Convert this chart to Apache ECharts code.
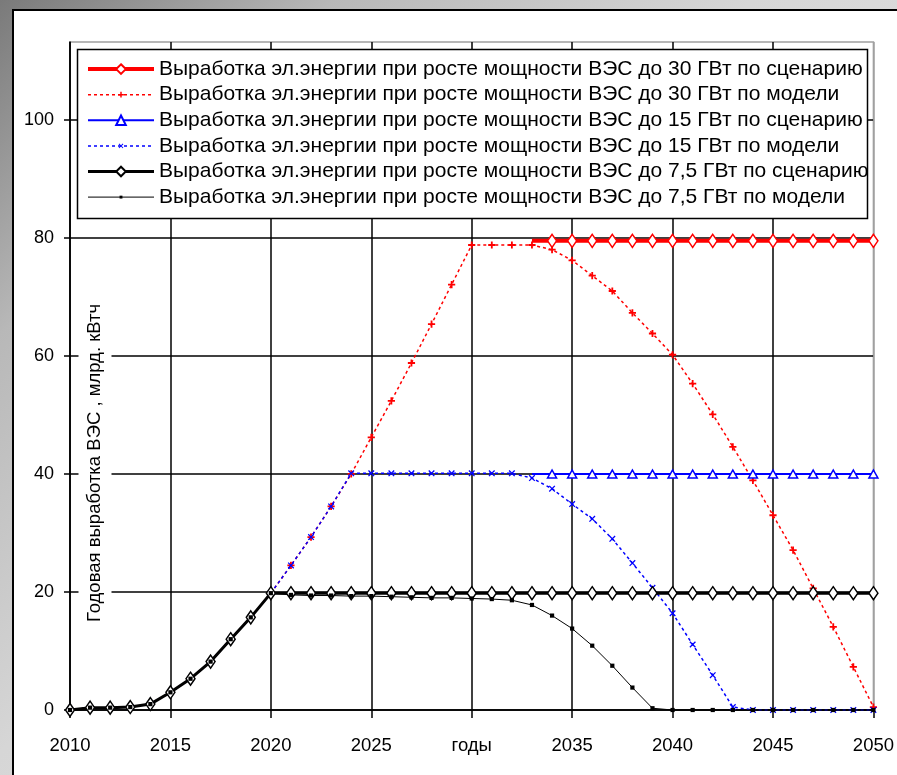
<!DOCTYPE html>
<html>
<head>
<meta charset="utf-8">
<script src="https://cdn.jsdelivr.net/npm/echarts@6/dist/echarts.min.js"></script>
<style>
html,body{margin:0;padding:0;width:897px;height:775px;overflow:hidden;}
body{background:linear-gradient(135deg,#7a7a7a 0%,#b8b8b8 20%,#d6d6d6 45%,#ececec 100%);}
#panel{position:absolute;left:12px;top:9px;width:900px;height:800px;background:#fff;border-left:2px solid #000;border-top:2px solid #000;}
#chart{position:absolute;left:0;top:0;width:897px;height:775px;}
</style>
</head>
<body>
<div id="panel"></div>
<div id="chart"></div>
<script>
// ---------- data ----------
const years = [2010,2011,2012,2013,2014,2015,2016,2017,2018,2019,2020,
               2021,2022,2023,2024,2025,2026,2027,2028,2029,2030,
               2031,2032,2033,2034,2035,2036,2037,2038,2039,2040,
               2041,2042,2043,2044,2045,2046,2047,2048,2049,2050];

const red30Scenario = [null,null,null,null,null,null,null,null,null,null,null,
                       null,null,null,null,null,null,null,null,null,null,
                       null,null,79.5,79.5,79.5,79.5,79.5,79.5,79.5,79.5,
                       79.5,79.5,79.5,79.5,79.5,79.5,79.5,79.5,79.5,79.5];

const red30Model = [0,0.4,0.4,0.5,1.0,3.0,5.3,8.2,12.0,15.7,19.8,
                    24.5,29.3,34.5,40.0,46.2,52.4,58.8,65.4,72.1,78.8,
                    78.8,78.8,78.8,78.0,76.2,73.6,71.0,67.3,63.8,60.2,
                    55.3,50.1,44.6,38.9,33.0,27.1,20.6,14.1,7.3,0.5];

const blue15Scenario = [null,null,null,null,null,null,null,null,null,null,null,
                        null,null,null,null,null,null,null,null,null,null,
                        null,null,40.0,40.0,40.0,40.0,40.0,40.0,40.0,40.0,
                        40.0,40.0,40.0,40.0,40.0,40.0,40.0,40.0,40.0,40.0];

const blue15Model = [0,0.4,0.4,0.5,1.0,3.0,5.3,8.2,12.0,15.7,19.8,
                     24.5,29.3,34.5,40.1,40.1,40.1,40.1,40.1,40.1,40.1,
                     40.1,40.1,39.3,37.5,34.9,32.4,29.0,24.9,20.7,16.4,
                     11.1,5.9,0.5,0,0,0,0,0,0,0];

const black75Scenario = [0,0.4,0.4,0.5,1.0,3.0,5.3,8.2,12.0,15.7,19.8,
                         19.8,19.8,19.8,19.8,19.8,19.8,19.8,19.8,19.8,19.8,
                         19.8,19.8,19.8,19.8,19.8,19.8,19.8,19.8,19.8,19.8,
                         19.8,19.8,19.8,19.8,19.8,19.8,19.8,19.8,19.8,19.8];

const black75Model = [0,0.4,0.4,0.5,1.0,3.0,5.3,8.2,12.0,15.7,19.8,
                      19.5,19.4,19.4,19.3,19.3,19.2,19.1,19.0,19.0,18.9,
                      18.8,18.6,17.8,16.0,13.8,10.9,7.5,3.8,0.3,0,
                      0,0,0,0,0,0,0,0,0,0];

const seriesNames = [
  'Выработка эл.энергии при росте мощности ВЭС до 30 ГВт по сценарию',
  'Выработка эл.энергии при росте мощности ВЭС до 30 ГВт по модели',
  'Выработка эл.энергии при росте мощности ВЭС до 15 ГВт по сценарию',
  'Выработка эл.энергии при росте мощности ВЭС до 15 ГВт по модели',
  'Выработка эл.энергии при росте мощности ВЭС до 7,5 ГВт по сценарию',
  'Выработка эл.энергии при росте мощности ВЭС до 7,5 ГВт по модели'
];
const yTitle = 'Годовая выработка ВЭС , млрд. кВтч';
const xAxisWord = 'годы';
const yTickValues = [0,20,40,60,80,100];

// ---------- helpers ----------
function pairs(vals, hideFirstSymbol){
  const out = [];
  let first = true;
  for (let i = 0; i < years.length; i++) {
    if (vals[i] === null) continue;
    if (first && hideFirstSymbol) out.push({value:[years[i], vals[i]], symbol:'none'});
    else out.push([years[i], vals[i]]);
    first = false;
  }
  return out;
}
const FONT = "'Liberation Sans',Arial,sans-serif";
const SYM_PLUS = 'path://M0 0M20 20M8.5 4L11.5 4L11.5 8.5L16 8.5L16 11.5L11.5 11.5L11.5 16L8.5 16L8.5 11.5L4 11.5L4 8.5L8.5 8.5Z';
const SYM_X = 'path://M0 0M20 20M5 6.4L6.4 5L15 13.6L13.6 15ZM13.6 5L15 6.4L6.4 15L5 13.6Z';
const SYM_SQ = 'path://M0 0M20 20M7 7L13 7L13 13L7 13Z';

const RED = '#ff0000', BLUE = '#0000ff', BLACK = '#000000', GRAY = '#a0a0a0';
const lineWidths = [4, 1.5, 2, 1.5, 3, 1];

const chart = echarts.init(document.getElementById('chart'), null, {renderer:'canvas'});
chart.setOption({
  animation: false,
  backgroundColor: 'transparent',
  grid: {left:70, right:21, top:42, bottom:65, show:true, borderColor:GRAY, borderWidth:1.5, backgroundColor:'#fff'},
  xAxis: {
    type:'value', min:2010, max:2050, interval:5,
    axisLine:{show:true, lineStyle:{color:BLACK, width:1.5}},
    axisTick:{show:true, length:8, lineStyle:{color:BLACK, width:1.5}},
    axisLabel:{margin:26, fontFamily:FONT, fontSize:18.5, color:BLACK,
      formatter: v => (v === 2030 ? xAxisWord : String(v))},
    splitLine:{show:true, lineStyle:{color:[BLACK,BLACK,BLACK,BLACK,BLACK,BLACK,BLACK,BLACK,GRAY], width:1.5}}
  },
  yAxis: {
    type:'value', min:0, max:113.2, interval:20,
    axisLine:{show:true, lineStyle:{color:BLACK, width:1.5}},
    axisTick:{show:true, length:6, customValues:yTickValues, lineStyle:{color:BLACK, width:1.5}},
    axisLabel:{margin:16, fontFamily:FONT, fontSize:18, color:BLACK, customValues:yTickValues,
      formatter: v => (v % 20 === 0 ? String(v) : '')},
    splitLine:{show:true, lineStyle:{color:[BLACK,BLACK,BLACK,BLACK,BLACK,BLACK,GRAY], width:1.5}}
  },
  legend: {
    orient:'vertical', left:86, top:56.6, padding:0, itemGap:0.6,
    itemWidth:66, itemHeight:12, selectedMode:false, z:5,
    textStyle:{fontFamily:FONT, fontSize:21, color:BLACK, lineHeight:25},
    data: seriesNames.map((n, i) => ({name:n, lineStyle:{width:lineWidths[i]}}))
  },
  graphic: [
    {type:'rect', z:3, shape:{x:77.5, y:49.5, width:790, height:169},
     style:{fill:'#fff', stroke:BLACK, lineWidth:1.5}},
    {type:'text', z:3, x:95, y:463, rotation:Math.PI/2,
     style:{text:yTitle, fontFamily:FONT, fontSize:18.5, fill:BLACK,
            align:'center', verticalAlign:'middle', textAlign:'center', textVerticalAlign:'middle',
            backgroundColor:'#fff', padding:[7,3,7,3]}}
  ],
  series: [
    {name:seriesNames[0], type:'line', data:pairs(red30Scenario, true), clip:false,
     symbol:'diamond', symbolSize:[9,13], showSymbol:true,
     lineStyle:{color:RED, width:lineWidths[0]}, itemStyle:{color:'#fff', borderColor:RED, borderWidth:1.5}},
    {name:seriesNames[1], type:'line', data:pairs(red30Model), clip:false,
     symbol:SYM_PLUS, symbolSize:12, showSymbol:true,
     lineStyle:{color:RED, width:lineWidths[1], type:[3,3]}, itemStyle:{color:RED, borderWidth:0}},
    {name:seriesNames[2], type:'line', data:pairs(blue15Scenario, true), clip:false,
     symbol:'triangle', symbolSize:[9,8], showSymbol:true,
     lineStyle:{color:BLUE, width:lineWidths[2]}, itemStyle:{color:'#fff', borderColor:BLUE, borderWidth:1.5}},
    {name:seriesNames[3], type:'line', data:pairs(blue15Model), clip:false,
     symbol:SYM_X, symbolSize:13, showSymbol:true,
     lineStyle:{color:BLUE, width:lineWidths[3], type:[3,3]}, itemStyle:{color:BLUE, borderWidth:0}},
    {name:seriesNames[4], type:'line', data:pairs(black75Scenario), clip:false,
     symbol:'diamond', symbolSize:[9,13], showSymbol:true,
     lineStyle:{color:BLACK, width:lineWidths[4]}, itemStyle:{color:'#fff', borderColor:BLACK, borderWidth:1.5}},
    {name:seriesNames[5], type:'line', data:pairs(black75Model), clip:false,
     symbol:SYM_SQ, symbolSize:14, showSymbol:true,
     lineStyle:{color:BLACK, width:lineWidths[5]}, itemStyle:{color:BLACK, borderWidth:0}}
  ]
});
</script>
</body>
</html>
